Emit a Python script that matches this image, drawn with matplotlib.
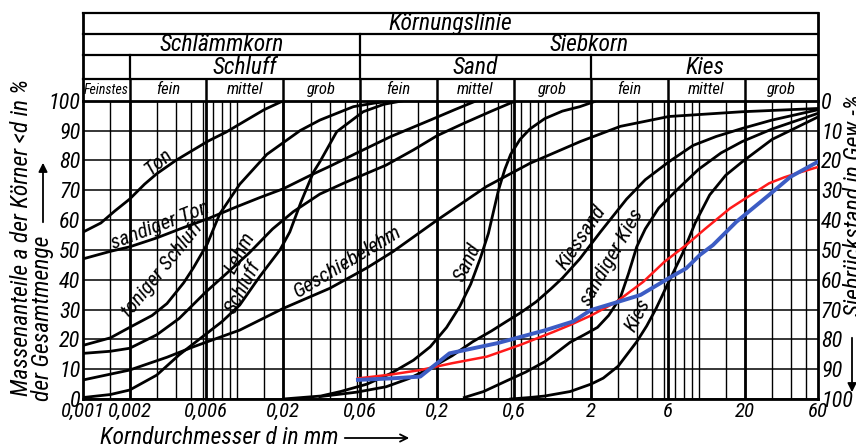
import numpy as np
import matplotlib
matplotlib.use("Agg")
import matplotlib.pyplot as plt
from matplotlib import font_manager

# pick a narrow font if there is one, the reference uses a condensed DIN-like face
names = {f.name for f in font_manager.fontManager.ttflist}
cond_dejavu = any(f.name == 'DejaVu Sans' and f.stretch == 'condensed' for f in font_manager.fontManager.ttflist)
FONT = 'Roboto'
STRETCH = 'normal'
for n in ['Liberation Sans Narrow', 'Roboto Condensed', 'Open Sans Condensed', 'Noto Sans Condensed']:
    if n in names:
        FONT = n
        break
else:
    if cond_dejavu:
        FONT, STRETCH = 'DejaVu Sans', 'condensed'

plt.rcParams['font.family'] = [FONT, 'DejaVu Sans']
plt.rcParams['font.style'] = 'italic'
plt.rcParams['font.stretch'] = STRETCH

# --- data ---
ton_d = [0.001, 0.0013, 0.0016, 0.002, 0.0025, 0.003, 0.004, 0.005, 0.0065, 0.0085, 0.0115, 0.015, 0.02]
ton_p = [56, 59, 63, 67, 72, 75.5, 80, 83, 86.5, 89.5, 93.5, 97, 100]

sandton_d = [0.001, 0.0015, 0.002, 0.003, 0.0045, 0.0065, 0.01, 0.014, 0.02, 0.03, 0.04, 0.063, 0.1, 0.18, 0.26, 0.36]
sandton_p = [47, 49.5, 51, 54, 57.5, 60.5, 64.5, 67.5, 70.5, 75, 78, 83, 88, 93.5, 97, 100]

tonschluff_d = [0.001, 0.0015, 0.002, 0.0028, 0.0035, 0.0045, 0.0052, 0.0064, 0.0077, 0.0104, 0.0156, 0.0257, 0.0345, 0.057, 0.08, 0.114]
tonschluff_p = [18, 20.5, 24, 28, 32, 39, 44, 52, 62, 72, 82, 90, 93.5, 98, 99.3, 100]

lehm_d = [0.001, 0.0015, 0.002, 0.003, 0.0042, 0.0063, 0.0085, 0.012, 0.017, 0.0232, 0.0345, 0.05, 0.093, 0.14, 0.2, 0.3, 0.45, 0.63]
lehm_p = [15.3, 16, 17, 21.5, 27, 36, 42, 49, 57, 62.8, 68.7, 72.5, 78.4, 83.5, 88.3, 92.5, 96.5, 99.7]

schluff_d = [0.001, 0.0015, 0.002, 0.003, 0.0042, 0.006, 0.008, 0.0104, 0.014, 0.019, 0.022, 0.026, 0.0313, 0.0345, 0.0444, 0.066, 0.09, 0.12]
schluff_p = [0.5, 1.5, 3, 8, 14.8, 21, 26, 31.5, 41, 50, 56, 66, 76, 79.5, 89.6, 96.3, 98.8, 100]

geschiebe_d = [0.001, 0.002, 0.0035, 0.0052, 0.0104, 0.02, 0.04, 0.07, 0.103, 0.2, 0.417, 0.8, 1.7, 3.1, 6.4, 19.2, 60]
geschiebe_p = [6.4, 9.7, 14, 17.5, 23.1, 30.4, 37.1, 44, 49.4, 60, 71.2, 79, 86.3, 91.4, 94.7, 96.3, 97.4]

sand_d = [0.02, 0.035, 0.047, 0.07, 0.1, 0.14, 0.18, 0.23, 0.28, 0.33, 0.38, 0.43, 0.46, 0.5, 0.55, 0.6, 0.69, 0.8, 1.0, 1.3, 1.69, 2.1]
sand_p = [0, 1, 2.5, 5, 8.6, 13, 17.5, 24, 31, 38.5, 47, 55.5, 62, 70, 77, 82, 87, 90.5, 94, 96.5, 98, 99.7]

kiessand_d = [0.0345, 0.06, 0.093, 0.13, 0.18, 0.25, 0.34, 0.45, 0.56, 0.7, 0.88, 1.1, 1.3, 1.69, 2.3, 3.4, 4.5, 6.4, 9.2, 13, 19.2, 30, 60]
kiessand_p = [0.8, 2.3, 4.1, 6.8, 10.3, 14.5, 19.2, 22.8, 25.9, 29, 32.6, 37, 40.5, 47, 56, 67, 73.5, 79.5, 85, 88, 90.7, 93.5, 97]

sandkies_d = [0.3, 0.4, 0.56, 0.75, 1.0, 1.46, 1.8, 2.2, 2.6, 3.1, 3.5, 3.96, 4.5, 5.5, 7.4, 10, 14, 19.2, 30, 60]
sandkies_p = [0.5, 2.5, 6, 9, 12.5, 19, 21.5, 24, 28, 34, 42, 51, 57, 64, 70.6, 77, 82.5, 86.3, 90.5, 95.8]

kies_d = [0.6, 0.8, 1.0, 1.46, 2.0, 2.4, 3.0, 3.96, 4.6, 5.3, 6.4, 7.9, 9.5, 11.8, 15, 19.2, 30, 60]
kies_p = [0, 0.5, 1, 2.5, 5, 7, 11, 19.2, 24.5, 30.4, 39.3, 49, 59, 68.4, 75, 79.5, 87, 94.6]

red_d = [0.061, 0.1, 0.155, 0.25, 0.42, 0.69, 1.14, 1.46, 2.0, 2.93, 4.37, 6.0, 8.3, 11, 16, 22, 28.7, 36, 43.7, 60]
red_p = [6.9, 8.2, 9.7, 12, 14.2, 18.1, 22.5, 24.8, 28, 32.6, 39.3, 46, 51.6, 57, 63.9, 68.5, 72.3, 74.3, 75.7, 77.8]

blue_d = [0.061, 0.1, 0.155, 0.24, 0.49, 1.0, 1.53, 1.99, 2.8, 4.2, 6.4, 8.3, 10.2, 12.4, 17.6, 28.7, 39.6, 60]
blue_p = [6.4, 6.9, 7.5, 15.3, 18.7, 23, 26, 29.8, 32.1, 34.9, 40.5, 43.8, 48.3, 51.6, 59.4, 68.4, 74.5, 79.6]

# section boundaries and labels
bounds = [0.001, 0.002, 0.0063, 0.02, 0.063, 0.2, 0.63, 2, 6.3, 20, 60]
sub_labels = ["Feinstes", "fein", "mittel", "grob", "fein", "mittel", "grob", "fein", "mittel", "grob"]
mid_labels = [("", 0.001, 0.002), ("Schluff", 0.002, 0.063), ("Sand", 0.063, 2), ("Kies", 2, 60)]
top_labels = [("Schlämmkorn", 0.001, 0.063), ("Siebkorn", 0.063, 60)]
tick_pos = [0.001, 0.002, 0.0063, 0.02, 0.063, 0.2, 0.63, 2, 6.3, 20, 60]
tick_lab = ["0,001", "0,002", "0,006", "0,02", "0,06", "0,2", "0,6", "2", "6", "20", "60"]
y_ticks = list(range(0, 101, 10))

curves = [
    (ton_d, ton_p, "Ton", 0.00306, 79.5, 40),
    (sandton_d, sandton_p, "sandiger Ton", 0.00315, 58.3, 21),
    (tonschluff_d, tonschluff_p, "toniger Schluff", 0.00326, 43.6, 51),
    (lehm_d, lehm_p, "Lehm", 0.0104, 49, 62),
    (schluff_d, schluff_p, "Schluff", 0.011, 37.5, 62),
    (geschiebe_d, geschiebe_p, "Geschiebelehm", 0.0525, 45.9, 31),
    (sand_d, sand_p, "Sand", 0.316, 45.6, 64),
    (kiessand_d, kiessand_p, "Kiessand", 1.74, 54, 56),
    (sandkies_d, sandkies_p, "sandiger Kies", 2.74, 47.6, 60),
    (kies_d, kies_p, "Kies", 4.04, 28.2, 62),
]

fig = plt.figure(figsize=(8.56, 4.48), dpi=100)
ax = fig.add_axes([83.3 / 856, 1 - 399 / 448, 735 / 856, 298.3 / 448])
ax.set_xscale('log')
ax.set_xlim(0.001, 60)
ax.set_ylim(0, 100)

# grid
for dec in [0.001, 0.01, 0.1, 1, 10]:
    for m in [1, 1.5, 2, 3, 4, 5, 6, 7, 8, 9]:
        v = dec * m
        if 0.001 < v < 60:
            ax.axvline(v, color='black', lw=1.0, zorder=1)
for b in bounds[1:-1]:
    ax.axvline(b, color='black', lw=2.0, zorder=1)
for y in y_ticks:
    ax.axhline(y, color='black', lw=1.1, zorder=1)

for d, p, name, lx, ly, rot in curves:
    ax.plot(d, p, color='black', lw=2.0, zorder=3, solid_joinstyle='round')
    ax.text(lx, ly, name, rotation=rot, rotation_mode='anchor', ha='center', va='center',
            fontsize=15, color='black', zorder=4)

ax.plot(red_d, red_p, color='#ff1a1a', lw=1.8, zorder=5)
ax.plot(blue_d, blue_p, color='#3c5cc4', lw=2.8, zorder=6, solid_joinstyle='round')

for s in ax.spines.values():
    s.set_linewidth(2)

ax.set_xticks(tick_pos)
ax.set_xticklabels(tick_lab)
ax.xaxis.set_minor_locator(matplotlib.ticker.NullLocator())
ax.set_yticks(y_ticks)
ax.tick_params(axis='y', length=0, labelsize=16, pad=2)
ax.tick_params(axis='x', length=0, labelsize=15, pad=2)

ax2 = ax.twinx()
ax2.set_ylim(100, 0)
ax2.set_yticks(y_ticks)
ax2.tick_params(length=0, labelsize=16, pad=2)
for s in ax2.spines.values():
    s.set_visible(False)

# header table
tr = ax.get_xaxis_transform()
r4, r3, r2, r1 = 1.0727, 1.1532, 1.2226, 1.293
for yy in [r4, r3, r2, r1]:
    ax.plot([0.001, 60], [yy, yy], color='black', lw=1.6, transform=tr, clip_on=False)
ax.plot([0.001, 0.001], [1, r1], color='black', lw=2, transform=tr, clip_on=False)
ax.plot([60, 60], [1, r1], color='black', lw=2, transform=tr, clip_on=False)
for b in bounds[1:-1]:
    ax.plot([b, b], [1, r4], color='black', lw=1.8, transform=tr, clip_on=False)
for b in [0.002, 0.063, 2]:
    ax.plot([b, b], [r4, r3], color='black', lw=1.6, transform=tr, clip_on=False)
ax.plot([0.063, 0.063], [r3, r2], color='black', lw=1.6, transform=tr, clip_on=False)

for i, lab in enumerate(sub_labels):
    xc = np.sqrt(bounds[i] * bounds[i + 1])
    ax.text(xc, (1 + r4) / 2, lab, transform=tr, ha='center', va='center',
            fontsize=10 if lab == "Feinstes" else 12)
for lab, a, b in mid_labels:
    ax.text(np.sqrt(a * b), (r4 + r3) / 2, lab, transform=tr, ha='center', va='center', fontsize=17)
for lab, a, b in top_labels:
    ax.text(np.sqrt(a * b), (r3 + r2) / 2, lab, transform=tr, ha='center', va='center', fontsize=17)
ax.text(np.sqrt(0.001 * 60), (r2 + r1) / 2, "Körnungslinie", transform=tr, ha='center', va='center', fontsize=17)

# axis titles
fig.text(22 / 856, 1 - 238 / 448, "Massenanteile a der Körner <d in %", rotation=90,
         ha='center', va='center', fontsize=17)
fig.text(43 / 856, 1 - 318 / 448, "der Gesamtmenge", rotation=90, ha='center', va='center', fontsize=17)
fig.add_artist(matplotlib.patches.FancyArrowPatch((43 / 856, 1 - 225 / 448), (43 / 856, 1 - 160 / 448),
               transform=fig.transFigure, arrowstyle='-|>', mutation_scale=13, lw=1.3, color='black'))
fig.text(100 / 856, 1 - 437 / 448, "Korndurchmesser d in mm", ha='left', va='center', fontsize=17)
fig.add_artist(matplotlib.patches.FancyArrowPatch((342 / 856, 1 - 438 / 448), (412 / 856, 1 - 438 / 448),
               transform=fig.transFigure, arrowstyle='->', mutation_scale=13, lw=1.3, color='black'))
fig.text(843 / 856, 1 - 95 / 448, "Siebrückstand in Gew.-%", rotation=90, ha='left', va='top', fontsize=17)
fig.add_artist(matplotlib.patches.FancyArrowPatch((852 / 856, 1 - 335 / 448), (852 / 856, 1 - 395 / 448),
               transform=fig.transFigure, arrowstyle='-|>', mutation_scale=13, lw=1.3, color='black'))

fig.savefig("out.png", dpi=100)
